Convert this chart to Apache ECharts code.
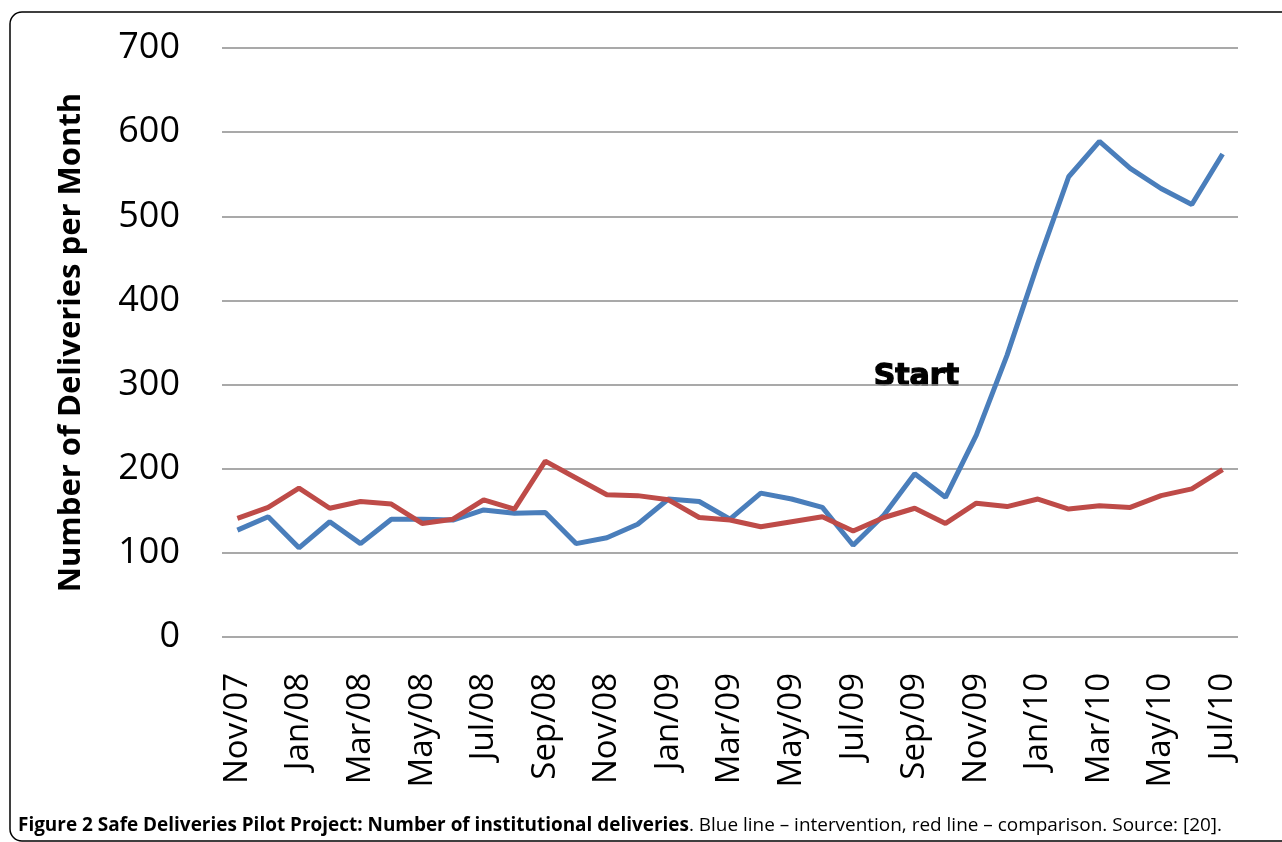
<!DOCTYPE html>
<html>
<head>
<meta charset="utf-8">
<script src="https://cdn.jsdelivr.net/npm/echarts@6/dist/echarts.min.js"></script>
<style>
html,body{margin:0;padding:0;background:#fff;}
#chart{width:1282px;height:842px;}
</style>
</head>
<body>
<div id="chart"></div>
<script>
const months = ['Nov/07','Dec/07','Jan/08','Feb/08','Mar/08','Apr/08','May/08','Jun/08','Jul/08','Aug/08','Sep/08','Oct/08','Nov/08','Dec/08','Jan/09','Feb/09','Mar/09','Apr/09','May/09','Jun/09','Jul/09','Aug/09','Sep/09','Oct/09','Nov/09','Dec/09','Jan/10','Feb/10','Mar/10','Apr/10','May/10','Jun/10','Jul/10'];
const intervention = [127,143,106,137,111,140,140,139,151,147,148,111,118,134,164,161,140,171,164,154,109,145,194,166,240,335,444,547,589,557,533,514,574];
const comparison = [141,154,177,153,161,158,135,140,163,152,209,189,169,168,163,142,139,131,137,143,126,142,153,135,159,155,164,152,156,154,168,176,199];
const yTicks = [0,100,200,300,400,500,600,700];
const yTitle = 'Number of Deliveries per Month';
const annotation = 'Start';
const captionBold = 'Figure 2 Safe Deliveries Pilot Project: Number of institutional deliveries';
const captionRest = '. Blue line \u2013 intervention, red line \u2013 comparison. Source: [20].';

const chart = echarts.init(document.getElementById('chart'));

// measure caption to fit target width
const capFont = 19;
const cv = document.createElement('canvas').getContext('2d');
cv.font = 'bold ' + capFont + 'px "Open Sans"';
let w1 = cv.measureText(captionBold).width;
cv.font = capFont + 'px "Open Sans"';
let w2 = cv.measureText(captionRest).width;
const capScale = 1204 / (w1 + w2);

chart.setOption({
  animation: false,
  backgroundColor: '#fff',
  grid: {left: 222, right: 44, top: 48, bottom: 205},
  xAxis: {
    type: 'category',
    data: months,
    boundaryGap: true,
    axisLine: {show: false},
    axisTick: {show: false},
    axisLabel: {interval: 1, rotate: 90, fontSize: 33, margin: 36, color: '#000', fontFamily: 'Open Sans'}
  },
  yAxis: {
    type: 'value',
    min: yTicks[0],
    max: yTicks[yTicks.length - 1],
    interval: 100,
    name: yTitle,
    nameLocation: 'middle',
    nameGap: 135,
    nameTextStyle: {fontSize: 31, fontWeight: 'bold', color: '#000', fontFamily: 'Open Sans'},
    axisLine: {show: false},
    axisTick: {show: false},
    axisLabel: {fontSize: 36, margin: 42, color: '#000', fontFamily: 'Open Sans'},
    splitLine: {lineStyle: {color: '#8c8c8c', width: 1.6}}
  },
  series: [
    {name: 'Intervention', type: 'line', data: intervention, symbol: 'none',
     lineStyle: {color: '#4A7EBB', width: 5}, itemStyle: {color: '#4A7EBB'}},
    {name: 'Comparison', type: 'line', data: comparison, symbol: 'none',
     lineStyle: {color: '#BE4B48', width: 5}, itemStyle: {color: '#BE4B48'}}
  ],
  graphic: [
    {type: 'rect', shape: {x: 10, y: 12, width: 1320, height: 829, r: 12},
     style: {fill: 'none', stroke: '#000', lineWidth: 1.5}, silent: true},
    {type: 'text', left: 873, top: 362,
     style: {text: annotation, font: 'bold 30px "DejaVu Sans"', fill: '#000', stroke: '#000', lineWidth: 1.3}},
    {type: 'text', x: 18, y: 826, scaleX: capScale, originX: 0,
     style: {
       text: '{b|' + captionBold + '}{n|' + captionRest + '}',
       verticalAlign: 'middle',
       rich: {
         b: {fontSize: capFont, fontWeight: 'bold', fontFamily: 'Open Sans', fill: '#000'},
         n: {fontSize: capFont, fontFamily: 'Open Sans', fill: '#000'}
       }
     }}
  ]
});
</script>
</body>
</html>
